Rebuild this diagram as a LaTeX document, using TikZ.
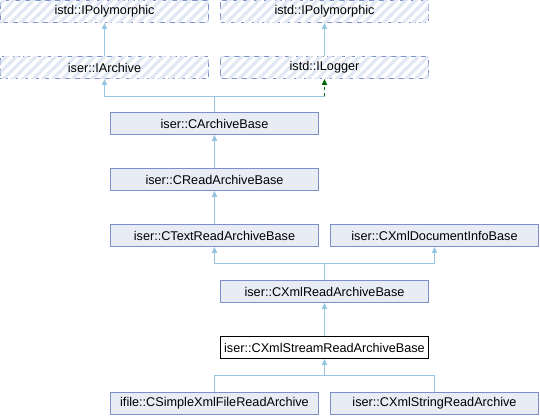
\documentclass[tikz,border=0pt]{standalone}
\usepackage{fontspec}
\setmainfont{Liberation Sans}
\usetikzlibrary{arrows.meta,patterns.meta}
\definecolor{boxfill}{HTML}{E8ECF4}
\definecolor{boxdraw}{HTML}{7C8FC8}
\definecolor{edgecol}{HTML}{97C6E3}
\definecolor{hatchcol}{HTML}{E2E8F3}
\definecolor{dkgreen}{HTML}{006400}
\tikzset{
  cls/.style={draw=boxdraw, fill=boxfill, line width=0.75pt, minimum width=156pt, minimum height=16.5pt, inner sep=0pt, font=\fontsize{9.5pt}{11pt}\selectfont, text=black},
  cur/.style={cls, draw=black, fill=white},
  ext/.style={cls, fill=white, dash pattern=on 5.25pt off 2.6pt, postaction={pattern={Lines[angle=45,distance=5.2pt,line width=2.4pt]}, pattern color=hatchcol}},
  edge/.style={draw=edgecol, line width=0.75pt},
  inh/.style={edge, -{Triangle[width=4pt,length=4.5pt]}},
  useedge/.style={draw=dkgreen, line width=0.75pt, dash pattern=on 2.25pt off 2.25pt, -{Triangle[width=4pt,length=4.5pt]}}
}
\begin{document}
\begin{tikzpicture}[x=0.75pt,y=-0.75pt]
\useasboundingbox (0,0) rectangle (540,416);
\node[ext] (poly1) at (104.5,11.5) {istd::IPolymorphic};
\node[ext] (poly2) at (324.5,11.5) {istd::IPolymorphic};
\node[ext] (iarch) at (104.5,67.5) {iser::IArchive};
\node[ext] (ilog) at (324.5,67.5) {istd::ILogger};
\node[cls] (carch) at (214.5,123.5) {iser::CArchiveBase};
\node[cls] (cread) at (214.5,179.5) {iser::CReadArchiveBase};
\node[cls] (ctext) at (214.5,235.5) {iser::CTextReadArchiveBase};
\node[cls] (cdoc) at (434.5,235.5) {iser::CXmlDocumentInfoBase};
\node[cls] (cxml) at (324.5,291.5) {iser::CXmlReadArchiveBase};
\node[cur] (stream) at (324.5,347.5) {iser::CXmlStreamReadArchiveBase};
\node[cls] (simple) at (214.5,403.5) {ifile::CSimpleXmlFileReadArchive};
\node[cls] (string) at (434.5,403.5) {iser::CXmlStringReadArchive};
\coordinate (j1) at (214.5,96.5);
\coordinate (j1r) at (324.5,96.5);
\coordinate (j2) at (324.5,263.5);
\coordinate (j3) at (324.5,375.5);
\draw[inh] (iarch.north) -- (poly1.south);
\draw[inh] (ilog.north) -- (poly2.south);
\draw[inh] (carch.north) -- (j1) -| (iarch.south);
\draw[edge] (j1) -- (j1r);
\draw[useedge] (j1r) -- (ilog.south);
\draw[inh] (cread.north) -- (carch.south);
\draw[inh] (ctext.north) -- (cread.south);
\draw[inh] (cxml.north) -- (j2) -| (ctext.south);
\draw[inh] (j2) -| (cdoc.south);
\draw[inh] (stream.north) -- (cxml.south);
\draw[inh] (simple.north) |- (j3) -- (stream.south);
\draw[edge] (string.north) |- (j3);
\end{tikzpicture}
\end{document}
